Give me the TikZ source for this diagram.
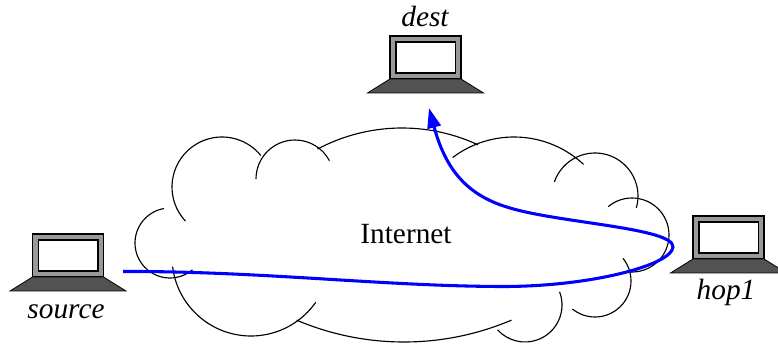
\documentclass[tikz,border=0pt]{standalone}
\usepackage{fontspec}
\setmainfont{Liberation Serif}
\usetikzlibrary{arrows.meta}
\tikzset{%
	cloud-arc/.style={
		draw=black,
		line width=0.85pt
	},
	laptop-frame/.style={
		draw=black,
		fill=black!40,
		line width=0.85pt
	},
	laptop-screen/.style={
		draw=black,
		fill=white,
		line width=1.1pt
	},
	laptop-base/.style={
		draw=black,
		fill=black!68,
		line width=0.6pt
	},
	host-label/.style={
		anchor=base,
		font=\fontsize{22}{26}\selectfont\itshape
	},
	route/.style={
		draw=blue,
		line width=2.3pt,
		-{Triangle[length=15pt,width=10pt]}
	},
}

\begin{document}
\begin{tikzpicture}[x=0.75pt, y=-0.75pt]
\useasboundingbox (0,0) rectangle (778,345);

% laptops
\foreach \n/\x/\y in {dest/425.5/79, source/68/277, hop1/728.5/259} {
	\begin{scope}[shift={(\x,\y)}]
		\coordinate (laptop-\n) at (0,0);
		\draw[laptop-frame] (-35.5,0) rectangle (35.5,-43);
		\draw[laptop-screen] (-29.5,-6) rectangle (30,-37);
		\draw[laptop-base] (-35.5,0) -- (35.5,0) -- (58,14) -- (-58,14) -- cycle;
	\end{scope}
}

% laptop labels
\node[host-label] (dest-label) at (425,27) {dest};
\node[host-label] (source-label) at (66,319) {source};
\node[host-label] (hop1-label) at (726,300) {hop1};

% cloud
\foreach \cx/\cy/\r/\a/\b in {222/187/50/137/321, 170/243/35/260/50, 251/257/79/173/35,
		295/179/39/180/332, 402/308/180/242/295, 514/239/102/233/313, 595/196/43/199/376,
		632/235/37/230/453, 595/281/36/-39/129, 525/305/37/-21/138, 404/67/275/113/67}
	\draw[cloud-arc] (\cx,\cy) ++(\a:\r) arc[start angle=\a, end angle=\b, radius=\r];
\node[font=\fontsize{22}{26}\selectfont, anchor=base] (internet) at (406,244) {Internet};

% route
\coordinate (route-start) at (123,271.5);
\coordinate (route-turn) at (673,247);
\coordinate (route-end) at (429,108);
\draw[route] (route-start) .. controls (260,271) and (380,286) .. (500,286.5)
	.. controls (590,287) and (672,265) .. (route-turn)
	.. controls (674,228) and (560,223) .. (510,208)
	.. controls (472,197) and (447,175) .. (route-end);

\end{tikzpicture}
\end{document}
